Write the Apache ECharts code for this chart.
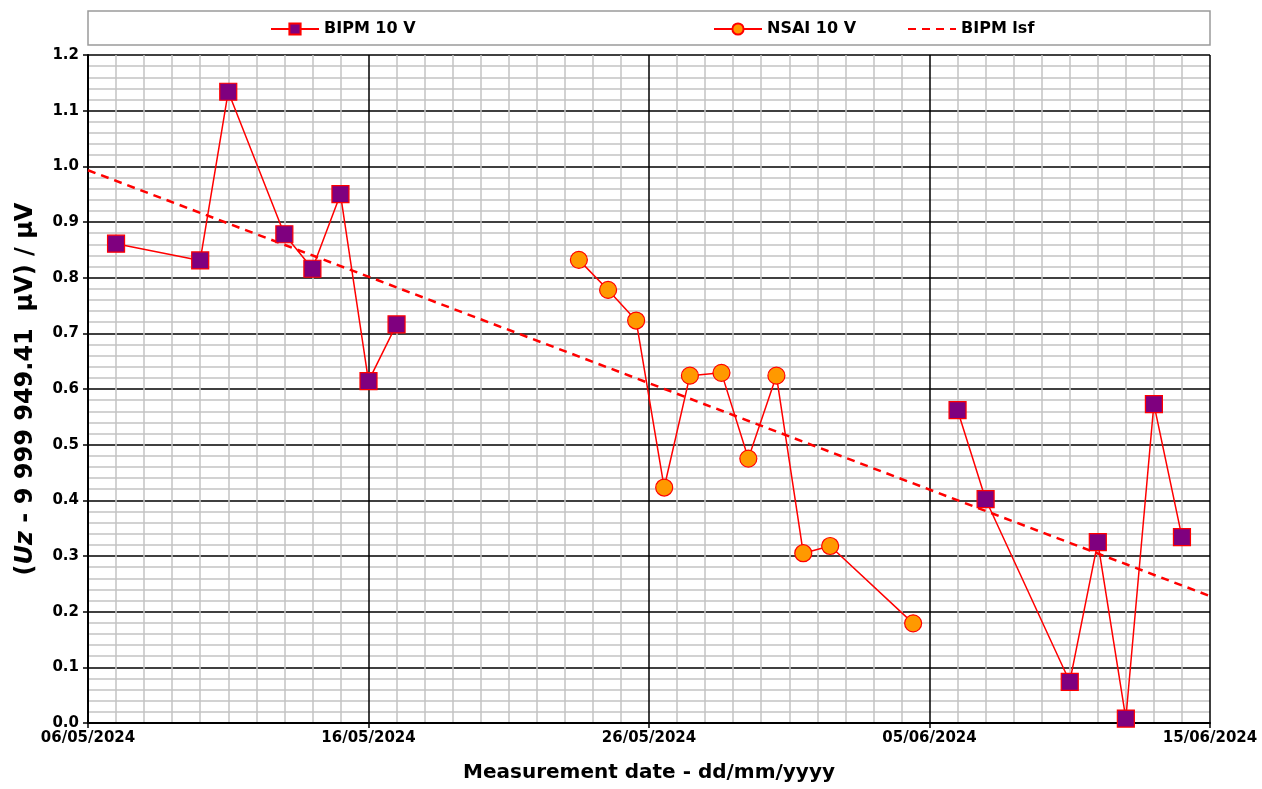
<!DOCTYPE html>
<html>
<head>
<meta charset="utf-8">
<script src="https://cdn.jsdelivr.net/npm/echarts@6/dist/echarts.min.js"></script>
<style>
  html, body { margin: 0; padding: 0; background: #ffffff; }
  #chart { width: 1262px; height: 789px; }
</style>
</head>
<body>
<div id="chart"></div>
<script>
// Measurement dates (UTC, "YYYY-MM-DD HH:mm") and values in µV.
// BIPM measurements come in two campaigns, before and after the NSAI run.
const bipmDatesBefore = [
  '2024-05-07 00:00', '2024-05-10 00:00', '2024-05-11 00:00', '2024-05-13 00:00',
  '2024-05-14 00:00', '2024-05-15 00:00', '2024-05-16 00:00', '2024-05-17 00:00'
];
const bipmValuesBefore = [0.861, 0.831, 1.134, 0.878, 0.816, 0.950, 0.614, 0.716];

const bipmDatesAfter = [
  '2024-06-06 00:00', '2024-06-07 00:00', '2024-06-10 00:00', '2024-06-11 00:00',
  '2024-06-12 00:00', '2024-06-13 00:00', '2024-06-14 00:00'
];
const bipmValuesAfter = [0.562, 0.402, 0.074, 0.325, 0.008, 0.573, 0.334];

const nsaiDates = [
  '2024-05-23 12:00', '2024-05-24 13:00', '2024-05-25 13:00', '2024-05-26 13:00',
  '2024-05-27 11:00', '2024-05-28 14:00', '2024-05-29 13:00', '2024-05-30 13:00',
  '2024-05-31 12:00', '2024-06-01 11:00', '2024-06-04 10:00'
];
const nsaiValues = [0.832, 0.778, 0.723, 0.423, 0.624, 0.629, 0.475, 0.624,
                    0.305, 0.318, 0.179];

// Least-squares fit to the BIPM data, given by its end points
const lsfDates = ['2024-05-06 00:00', '2024-06-15 00:00'];
const lsfValues = [0.993, 0.228];

// Axis range and tick labels
const axisStart = '2024-05-06 00:00';
const axisEnd = '2024-06-15 00:00';
const yTickLabels = ['0.0', '0.1', '0.2', '0.3', '0.4', '0.5', '0.6', '0.7', '0.8', '0.9', '1.0', '1.1', '1.2'];

const DAY = 86400000;
function parseUTC(s) {
  const [d, t] = s.split(' ');
  const [y, m, dd] = d.split('-').map(Number);
  const [hh, mm] = t.split(':').map(Number);
  return Date.UTC(y, m - 1, dd, hh, mm);
}
const t0 = parseUTC(axisStart);
const dayOffset = s => (parseUTC(s) - t0) / DAY;
const pad = n => (n < 10 ? '0' : '') + n;
function fmtDay(off) {
  const d = new Date(t0 + Math.round(off) * DAY);
  return pad(d.getUTCDate()) + '/' + pad(d.getUTCMonth() + 1) + '/' + d.getUTCFullYear();
}
const pairs = (ds, vs) => ds.map((s, i) => [dayOffset(s), vs[i]]);

// BIPM points with a break (null) between the two campaigns
const bipmData = pairs(bipmDatesBefore, bipmValuesBefore)
  .concat([null])
  .concat(pairs(bipmDatesAfter, bipmValuesAfter));

const FONT = 'DejaVu Sans';
const RED = '#ff0000';

const chart = echarts.init(document.getElementById('chart'), null, { renderer: 'canvas' });

const legendBase = {
  top: 21,
  padding: 0,
  itemGap: 0,
  itemWidth: 48,
  itemHeight: 14,
  textStyle: { fontFamily: FONT, fontWeight: 'bold', fontSize: 16, color: '#000' },
  selectedMode: false
};

chart.setOption({
  backgroundColor: '#ffffff',
  animation: false,
  graphic: [{
    type: 'rect',
    shape: { x: 88, y: 11, width: 1122, height: 34 },
    style: { fill: '#ffffff', stroke: '#9a9a9a', lineWidth: 1.5 },
    z: -1
  }],
  legend: [
    Object.assign({}, legendBase, { left: 270, data: ['BIPM 10 V'] }),
    Object.assign({}, legendBase, { left: 713, data: ['NSAI 10 V'] }),
    Object.assign({}, legendBase, { left: 907, data: ['BIPM lsf'], itemStyle: { opacity: 0 } })
  ],
  grid: { left: 88, right: 52, top: 55, bottom: 66, containLabel: false },
  xAxis: {
    type: 'value',
    min: 0,
    max: dayOffset(axisEnd),
    interval: 10,
    name: 'Measurement date - dd/mm/yyyy',
    nameLocation: 'middle',
    nameGap: 40,
    nameTextStyle: { fontFamily: FONT, fontWeight: 'bold', fontSize: 20, color: '#000' },
    axisLine: { onZero: false, lineStyle: { color: '#000', width: 2 } },
    axisTick: { show: true, inside: false, length: 5, lineStyle: { color: '#000', width: 1.5 } },
    axisLabel: {
      fontFamily: FONT, fontWeight: 'bold', fontSize: 15, color: '#000', margin: 8,
      formatter: v => fmtDay(v)
    },
    splitLine: { show: true, lineStyle: { color: '#000', width: 1.5 } },
    minorTick: { show: false, splitNumber: 10 },
    minorSplitLine: { show: true, lineStyle: { color: '#c4c4c4', width: 1.5 } }
  },
  yAxis: {
    type: 'value',
    min: 0,
    max: 1.2,
    interval: 0.1,
    name: '{p|(}{i|Uz}{p| - 9 999 949.41  µV) / µV}',
    nameLocation: 'middle',
    nameRotate: 90,
    nameGap: 50,
    nameTextStyle: {
      fontFamily: FONT, fontWeight: 'bold', fontSize: 24, color: '#000',
      rich: {
        p: { fontFamily: FONT, fontWeight: 'bold', fontSize: 24, color: '#000' },
        i: { fontFamily: FONT, fontWeight: 'bold', fontStyle: 'italic', fontSize: 24, color: '#000' }
      }
    },
    axisLine: { show: true, lineStyle: { color: '#000', width: 2 } },
    axisTick: { show: true, inside: false, length: 5, lineStyle: { color: '#000', width: 1.5 } },
    axisLabel: {
      fontFamily: FONT, fontWeight: 'bold', fontSize: 15, color: '#000', margin: 9,
      formatter: v => yTickLabels[Math.round(v * 10)]
    },
    splitLine: { show: true, lineStyle: { color: '#000', width: 1.5 } },
    minorTick: { show: false, splitNumber: 5 },
    minorSplitLine: { show: true, lineStyle: { color: '#c4c4c4', width: 1.5 } }
  },
  series: [
    {
      name: 'BIPM lsf',
      type: 'line',
      data: pairs(lsfDates, lsfValues),
      symbol: 'none',
      z: 2,
      lineStyle: { color: RED, width: 2.5, type: [8, 6] },
      itemStyle: { color: RED }
    },
    {
      name: 'BIPM 10 V',
      type: 'line',
      data: bipmData,
      connectNulls: false,
      symbol: 'rect',
      symbolSize: 17,
      z: 3,
      lineStyle: { color: RED, width: 1.5 },
      itemStyle: { color: '#7f007f', borderColor: RED, borderWidth: 1.2 }
    },
    {
      name: 'NSAI 10 V',
      type: 'line',
      data: pairs(nsaiDates, nsaiValues),
      symbol: 'circle',
      symbolSize: 17,
      z: 3,
      lineStyle: { color: RED, width: 1.5 },
      itemStyle: { color: '#ff9900', borderColor: RED, borderWidth: 1.2 }
    }
  ]
});
</script>
</body>
</html>
